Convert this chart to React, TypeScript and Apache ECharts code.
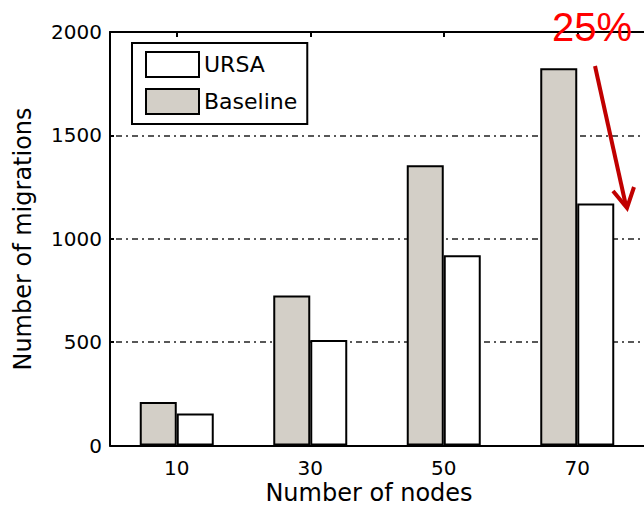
import React, { useEffect, useRef } from "react";
import * as echarts from "echarts";

// Number of nodes in the cluster
const nodeCounts = ["10", "30", "50", "70"];
// Number of migrations per configuration
const baselineMigrations = [210, 725, 1355, 1825];
const ursaMigrations = [155, 510, 920, 1170];
const yTicks = { min: 0, max: 2000, interval: 500 };
const reductionNote = "25%";

const FONT = "DejaVu Sans";

export default function App() {
  const ref = useRef<HTMLDivElement>(null);

  useEffect(() => {
    if (!ref.current) return;
    const chart = echarts.init(ref.current, undefined, { renderer: "svg" });

    const barBorder = { borderColor: "#000", borderWidth: 2 };

    chart.setOption({
      animation: false,
      backgroundColor: "#fff",
      grid: { left: 110, top: 32, width: 536, height: 413.5, containLabel: false },
      legend: {
        data: ["URSA", "Baseline"],
        orient: "vertical",
        left: 132,
        top: 43,
        icon: "rect",
        itemWidth: 53,
        itemHeight: 25,
        itemGap: 10,
        padding: [8, 10, 9, 13],
        borderColor: "#000",
        borderWidth: 2,
        itemStyle: { borderColor: "#000", borderWidth: 2 },
        textStyle: { fontFamily: FONT, fontSize: 22, color: "#000" },
      },
      xAxis: [
        {
          type: "category",
          data: nodeCounts,
          position: "bottom",
          axisLine: { lineStyle: { color: "#000", width: 2 } },
          axisTick: { show: false },
          axisLabel: { fontFamily: FONT, fontSize: 20, color: "#000", margin: 12 },
        },
        {
          type: "category",
          data: nodeCounts,
          position: "top",
          axisLine: { lineStyle: { color: "#000", width: 2 } },
          axisTick: { show: true, inside: true, alignWithLabel: true, length: 5, lineStyle: { color: "#000", width: 2 } },
          axisLabel: { show: false },
        },
      ],
      yAxis: {
        type: "value",
        min: yTicks.min,
        max: yTicks.max,
        interval: yTicks.interval,
        axisLine: { show: true, lineStyle: { color: "#000", width: 2 } },
        axisTick: { show: true, inside: true, length: 4, lineStyle: { color: "#000", width: 2 } },
        axisLabel: {
          fontFamily: FONT,
          fontSize: 20,
          color: "#000",
          margin: 8,
          formatter: (v: number) => String(v),
        },
        splitLine: {
          show: true,
          lineStyle: { color: "#222", width: 1.5, type: [2, 4, 6, 4] },
        },
      },
      series: [
        {
          name: "Baseline",
          type: "bar",
          data: baselineMigrations,
          barWidth: 37,
          barGap: "0%",
          itemStyle: { color: "#d3cfc7", ...barBorder },
        },
        {
          name: "URSA",
          type: "bar",
          data: ursaMigrations,
          barWidth: 37,
          barGap: "0%",
          itemStyle: { color: "#ffffff", ...barBorder },
        },
      ],
      graphic: [
        {
          type: "text",
          x: 369,
          y: 493,
          style: {
            text: "Number of nodes",
            font: `24px "${FONT}"`,
            fill: "#000",
            align: "center",
            verticalAlign: "middle",
          },
        },
        {
          type: "text",
          x: 23,
          y: 239,
          rotation: Math.PI / 2,
          style: {
            text: "Number of migrations",
            font: `24px "${FONT}"`,
            fill: "#000",
            align: "center",
            verticalAlign: "middle",
          },
        },
        {
          type: "text",
          x: 592,
          y: 27,
          z: 100,
          style: {
            text: reductionNote,
            font: `40px "Liberation Sans"`,
            fill: "#ff0000",
            align: "center",
            verticalAlign: "middle",
          },
        },
        {
          type: "line",
          z: 100,
          shape: { x1: 595, y1: 66, x2: 626, y2: 206 },
          style: { stroke: "#c00000", lineWidth: 4 },
        },
        {
          type: "polyline",
          z: 100,
          shape: { points: [[613, 191], [627, 208], [634, 187]] },
          style: { stroke: "#c00000", lineWidth: 4, fill: "none", lineJoin: "miter" },
        },
      ],
    });

    return () => chart.dispose();
  }, []);

  return (
    <div
      ref={ref}
      style={{ position: "fixed", left: 0, top: 0, width: 644, height: 510 }}
    />
  );
}
